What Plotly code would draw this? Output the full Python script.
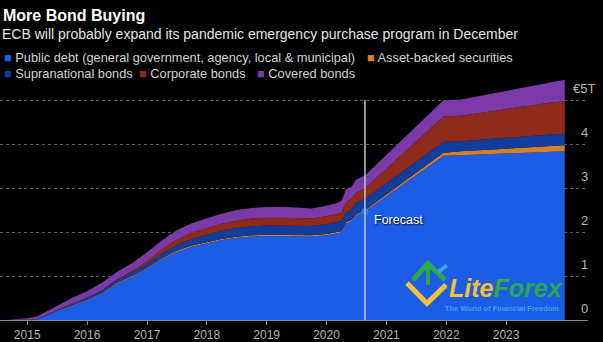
import plotly.graph_objects as go

# ---- data (trillions of euros, stacked layer thicknesses) ----
dates = [
    "2014-09-15", "2015-01-01", "2015-03-01", "2015-05-01", "2015-07-01", "2015-10-01",
    "2016-01-01", "2016-04-01", "2016-07-01", "2016-10-01",
    "2017-01-01", "2017-04-01", "2017-07-01", "2017-10-01",
    "2018-01-01", "2018-04-01", "2018-07-01", "2018-10-01",
    "2019-01-01", "2019-04-01", "2019-07-01", "2019-10-01",
    "2020-01-01", "2020-03-01", "2020-04-01", "2020-05-01", "2020-06-01", "2020-07-01",
    "2020-08-23", "2021-12-15", "2022-04-01", "2023-10-01", "2023-12-25",
]
public_debt = [0.0, 0.0, 0.01, 0.10, 0.20, 0.32, 0.44, 0.60, 0.82, 0.98,
               1.17, 1.38, 1.55, 1.67, 1.75, 1.82, 1.87, 1.90,
               1.91, 1.91, 1.90, 1.90, 1.93, 1.97, 1.99, 2.20, 2.24, 2.38,
               2.47, 3.74, 3.75, 3.83, 3.84]
asset_backed = [0.0, 0.005, 0.006, 0.008, 0.010, 0.013, 0.015, 0.017, 0.020, 0.020,
                0.020, 0.022, 0.024, 0.025, 0.025, 0.026, 0.027, 0.027,
                0.028, 0.028, 0.028, 0.028, 0.028, 0.030, 0.030, 0.030, 0.030, 0.030,
                0.030, 0.07, 0.09, 0.13, 0.14]
supranational = [0.0, 0.0, 0.004, 0.012, 0.020, 0.040, 0.050, 0.060, 0.070, 0.080,
                 0.090, 0.110, 0.130, 0.150, 0.170, 0.185, 0.195, 0.205,
                 0.212, 0.212, 0.212, 0.212, 0.222, 0.22, 0.23, 0.22, 0.24, 0.26,
                 0.26, 0.25, 0.23, 0.26, 0.26]
corporate = [0.0, 0.0, 0.0, 0.0, 0.0, 0.0, 0.0, 0.0, 0.01, 0.03,
             0.06, 0.10, 0.12, 0.14, 0.15, 0.16, 0.17, 0.18,
             0.18, 0.18, 0.18, 0.17, 0.18, 0.19, 0.19, 0.24, 0.25, 0.23,
             0.24, 0.57, 0.58, 0.73, 0.74]
covered = [0.005, 0.035, 0.06, 0.08, 0.10, 0.13, 0.15, 0.17, 0.17, 0.18,
           0.20, 0.20, 0.22, 0.22, 0.22, 0.23, 0.24, 0.24,
           0.24, 0.25, 0.24, 0.23, 0.24, 0.25, 0.27, 0.29, 0.27, 0.30,
           0.29, 0.37, 0.37, 0.45, 0.49]

series_names = ["Public debt (general government, agency, local & municipal)",
                "Asset-backed securities", "Supranational bonds",
                "Corporate bonds", "Covered bonds"]
series_values = [public_debt, asset_backed, supranational, corporate, covered]
colors = ["#1c5ce6", "#d2802c", "#113e9e", "#8e2a1c", "#7b3aa6"]

x_tick_dates = ["2015-01-01", "2016-01-01", "2017-01-01", "2018-01-01", "2019-01-01",
                "2020-01-01", "2021-01-01", "2022-01-01", "2023-01-01"]
x_tick_labels = ["2015", "2016", "2017", "2018", "2019", "2020", "2021", "2022", "2023"]
y_ticks = [0, 1, 2, 3, 4, 5]
y_labels = ["0", "1", "2", "3", "4", "€5T"]

forecast_date = "2020-08-23"
forecast_public = 2.47
forecast_top = 5.0

# ---- figure ----
fig = go.Figure()
for name, vals, col in zip(series_names, series_values, colors):
    fig.add_trace(go.Scatter(
        x=dates, y=vals, name=name, stackgroup="one", mode="lines",
        line=dict(width=0, color=col), fillcolor=col, showlegend=False,
        hoverinfo="skip"))

fig.add_trace(go.Scatter(
    x=[forecast_date], y=[forecast_public], mode="markers",
    marker=dict(color="#2a78ff", size=7), showlegend=False, hoverinfo="skip"))

W, H = 603, 342
ml, mr, mt, mb = 0, 15, 74, 16
pw, ph = W - ml - mr, H - mt - mb


def px(xp):
    return (xp - ml) / pw


def py(yp):
    return (H - mb - yp) / ph


annotations = []
# title & subtitle
annotations.append(dict(text="<b>More Bond Buying</b>", x=px(1), y=py(14), xref="paper", yref="paper",
                        xanchor="left", yanchor="middle", showarrow=False,
                        font=dict(size=16, color="#ffffff")))
annotations.append(dict(text="ECB will probably expand its pandemic emergency purchase program in December",
                        x=px(0), y=py(33), xref="paper", yref="paper",
                        xanchor="left", yanchor="middle", showarrow=False,
                        font=dict(size=14, color="#e4e4e4")))
# legend (as text items)
legend_pos = [(2, 57), (365, 57), (2, 73), (137, 73), (255, 73)]
for (lx, ly), name, col in zip(legend_pos, series_names, colors):
    annotations.append(dict(
        text=f'<span style="color:{col}">■</span> {name}',
        x=px(lx), y=py(ly), xref="paper", yref="paper", xanchor="left", yanchor="middle",
        showarrow=False, font=dict(size=12.8, color="#d2d2d2")))
# y tick labels above gridlines
for v, lab in zip(y_ticks, y_labels):
    annotations.append(dict(text=lab, x=px(584), y=v, xref="paper", yref="y",
                            xanchor="center", yanchor="middle", yshift=12, showarrow=False,
                            font=dict(size=13, color="#b4b4b4")))
# forecast label
annotations.append(dict(text="Forecast", x=forecast_date, y=2.27, xref="x", yref="y",
                        xanchor="left", yanchor="middle", xshift=7, showarrow=False,
                        font=dict(size=12.5, color="#ffffff", shadow="1px 1px 2px #000000")))
# watermark
annotations.append(dict(text='<b><i><span style="color:#f2c230">Lite</span><span style="color:#2aa84a">Forex</span></i></b>',
                        x=px(447), y=py(293), xref="paper", yref="paper", xanchor="left",
                        yanchor="middle", showarrow=False, font=dict(size=25, family="Liberation Sans")))
annotations.append(dict(text="<b>The World of Financial Freedom</b>", x=px(443), y=py(314),
                        xref="paper", yref="paper", xanchor="left", yanchor="middle",
                        showarrow=False, font=dict(size=7.5, color="#35a6e8")))

shapes = [
    dict(type="line", xref="x", yref="y", x0=forecast_date, x1=forecast_date, y0=0, y1=forecast_top,
         line=dict(color="#c4c4c4", width=1.5), layer="above"),
    # logo mark
    dict(type="path", xref="paper", yref="paper",
         path=f"M {px(407)},{py(288)} L {px(427)},{py(309)} L {px(446)},{py(290)}",
         line=dict(color="#f2c230", width=5), layer="above"),
    dict(type="path", xref="paper", yref="paper",
         path=f"M {px(413)},{py(285)} L {px(428)},{py(268)} L {px(445)},{py(285)}",
         line=dict(color="#2aa84a", width=5), layer="above"),
    dict(type="line", xref="paper", yref="paper", x0=px(428), x1=px(428), y0=py(270), y1=py(290),
         line=dict(color="#2aa84a", width=4), layer="above"),
    dict(type="line", xref="paper", yref="paper", x0=px(438), x1=px(447), y0=py(277), y1=py(270),
         line=dict(color="#3aa6e6", width=4), layer="above"),
]

fig.update_layout(
    width=W, height=H, margin=dict(l=ml, r=mr, t=mt, b=mb),
    paper_bgcolor="#000000", plot_bgcolor="#000000",
    font=dict(family="Liberation Sans, Arial, sans-serif", color="#b4b4b4"),
    annotations=annotations, shapes=shapes, showlegend=False,
    xaxis=dict(type="date", range=["2014-07-19", "2024-05-15"],
               tickvals=x_tick_dates, ticktext=x_tick_labels,
               showgrid=False, zeroline=False,
               showline=True, linecolor="#8a8a8a", linewidth=1,
               ticks="outside", ticklen=4, tickcolor="#8a8a8a",
               tickfont=dict(size=12, color="#b4b4b4"), fixedrange=True),
    yaxis=dict(range=[0, 5.6], tickvals=y_ticks[1:], showticklabels=False,
               showgrid=True, gridcolor="#5c5c5c", griddash="dot", gridwidth=1,
               zeroline=False, showline=False, fixedrange=True),
)

fig.write_html("out.html")
